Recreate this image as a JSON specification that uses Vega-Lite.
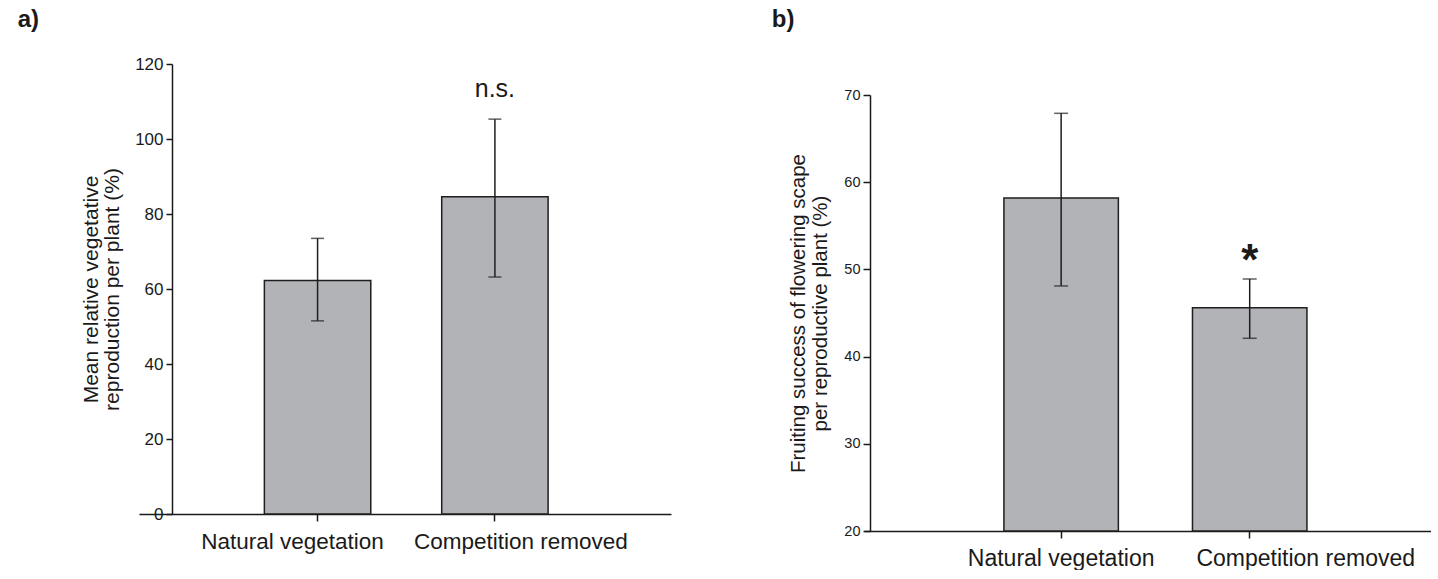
{
  "$schema": "https://vega.github.io/schema/vega-lite/v6.json",
  "background": "white",
  "padding": {"left": 17, "top": 8, "right": 0, "bottom": 0},
  "bounds": "full",
  "spacing": 100,
  "config": {
    "view": {"stroke": null},
    "font": "Liberation Sans",
    "axis": {"labelFont": "Liberation Sans", "titleFont": "Liberation Sans", "labelColor": "#1a1a1a", "titleColor": "#1a1a1a", "domainColor": "#1a1a1a", "tickColor": "#1a1a1a", "domainWidth": 1.5, "tickWidth": 1.5, "grid": false, "titleFontWeight": "normal", "labelLimit": 400},
    "title": {"font": "Liberation Sans", "color": "#1a1a1a"}
  },
  "hconcat": [
    {
      "width": 532,
      "height": 450,
      "title": {"text": "a)", "anchor": "start", "fontSize": 24, "fontWeight": "bold", "dx": -63, "offset": 23},
      "data": {"values": [
        {"group": "Natural vegetation", "mean": 62.3, "lo": 51.5, "hi": 73.5, "label": ""},
        {"group": "Competition removed", "mean": 84.6, "lo": 63.2, "hi": 105.3, "label": "n.s."}
      ]},
      "encoding": {
        "x": {"field": "group", "type": "nominal", "sort": ["Natural vegetation", "Competition removed"],
          "scale": {"paddingInner": 0.4, "paddingOuter": 0.7, "align": 0.505},
          "axis": {"title": null, "labelAngle": 0, "labelFontSize": 22.5, "labelPadding": 9, "tickSize": 7,
            "labelOffset": {"condition": {"test": "datum.value === 'Competition removed'", "value": 26}, "value": -25}}}
      },
      "layer": [
        {
          "mark": {"type": "bar", "fill": "#b1b3b6", "stroke": "#1e1e1e", "strokeWidth": 1.5},
          "encoding": {
            "y": {"field": "mean", "type": "quantitative", "title": ["Mean relative vegetative", "reproduction per plant (%)"],
              "scale": {"domain": [0, 120], "nice": false},
              "axis": {"values": [0, 20, 40, 60, 80, 100, 120], "offset": -33, "labelFontSize": 17, "labelPadding": 3, "tickSize": 6,
                "titleFontSize": 21, "titleLineHeight": 21, "titlePadding": 12}}
          }
        },
        {
          "mark": {"type": "errorbar", "color": "#1e1e1e", "thickness": 1.5, "ticks": {"size": 13, "thickness": 1.5, "color": "#1e1e1e"}},
          "encoding": {
            "y": {"field": "lo", "type": "quantitative", "title": ["Mean relative vegetative", "reproduction per plant (%)"]},
            "y2": {"field": "hi"}
          }
        },
        {
          "mark": {"type": "text", "fontSize": 25, "baseline": "alphabetic", "dy": -22, "color": "#1a1a1a"},
          "encoding": {
            "y": {"field": "hi", "type": "quantitative", "title": ["Mean relative vegetative", "reproduction per plant (%)"]},
            "text": {"field": "label"}
          }
        }
      ]
    },
    {
      "spacing": 0,
      "bounds": "flush",
      "vconcat": [
        {
          "width": 567,
          "height": 31,
          "data": {"values": []},
          "mark": {"type": "point", "opacity": 0},
          "encoding": {}
        },
        {
          "width": 567,
          "height": 436,
          "title": {"text": "b)", "anchor": "start", "fontSize": 24, "fontWeight": "bold", "dx": -17, "offset": 42},
          "data": {"values": [
            {"group": "Natural vegetation", "mean": 58.2, "lo": 48.1, "hi": 67.9, "label": ""},
            {"group": "Competition removed", "mean": 45.6, "lo": 42.1, "hi": 48.9, "label": "*"}
          ]},
          "encoding": {
            "x": {"field": "group", "type": "nominal", "sort": ["Natural vegetation", "Competition removed"],
              "scale": {"paddingInner": 0.393, "paddingOuter": 0.7, "align": 0.53},
              "axis": {"title": null, "labelAngle": 0, "labelFontSize": 23, "labelPadding": 9, "tickSize": 7,
                "labelOffset": {"condition": {"test": "datum.value === 'Competition removed'", "value": 56}, "value": 0}}}
          },
          "layer": [
            {
              "mark": {"type": "bar", "fill": "#b1b3b6", "stroke": "#1e1e1e", "strokeWidth": 1.5},
              "encoding": {
                "y": {"field": "mean", "type": "quantitative", "title": ["Fruiting success of flowering scape", "per reproductive plant (%)"],
                  "scale": {"domain": [20, 70], "nice": false, "zero": false},
                  "axis": {"values": [20, 30, 40, 50, 60, 70], "offset": -6, "labelFontSize": 14.5, "labelPadding": 3, "tickSize": 7,
                    "titleFontSize": 20.5, "titleLineHeight": 22, "titlePadding": 13}},
                "y2": {"datum": 20}
              }
            },
            {
              "mark": {"type": "errorbar", "color": "#1e1e1e", "thickness": 1.5, "ticks": {"size": 14, "thickness": 1.5, "color": "#1e1e1e"}},
              "encoding": {
                "y": {"field": "lo", "type": "quantitative", "title": ["Fruiting success of flowering scape", "per reproductive plant (%)"]},
                "y2": {"field": "hi"}
              }
            },
            {
              "mark": {"type": "text", "fontSize": 44, "fontWeight": "bold", "baseline": "alphabetic", "dy": -4, "color": "#1a1a1a"},
              "encoding": {
                "y": {"field": "hi", "type": "quantitative", "title": ["Fruiting success of flowering scape", "per reproductive plant (%)"]},
                "text": {"field": "label"}
              }
            }
          ]
        }
      ]
    }
  ]
}
